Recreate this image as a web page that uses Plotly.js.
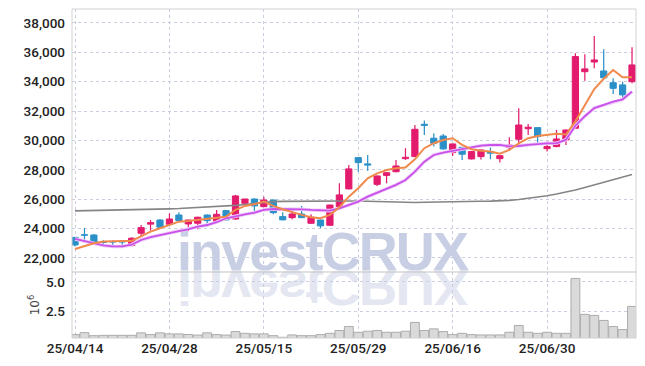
<!DOCTYPE html>
<html>
<head>
<meta charset="utf-8">
<script src="https://cdn.plot.ly/plotly-3.0.1.min.js"></script>
<style>
  html,body{margin:0;padding:0;background:#fff;}
  #wrap{position:relative;width:645px;height:366px;overflow:hidden;}
  .wm{position:absolute;left:177px;top:224px;font-family:'Liberation Sans',Arial,sans-serif;font-weight:bold;font-size:54px;line-height:54px;letter-spacing:-1.9px;white-space:nowrap;z-index:0;}
  #wm1{color:#c8cfe4;}
  #wm2{color:#e4e7f1;transform:scaleY(-0.92);transform-origin:0 46px;}
  #chart{position:absolute;left:0;top:0;width:645px;height:366px;z-index:1;}
</style>
</head>
<body>
<div id="wrap">
  <div class="wm" id="wm1">investCRUX</div>
  <div class="wm" id="wm2">investCRUX</div>
  <div id="chart"></div>
</div>
<script>
const dates = [
 '2025-04-14','2025-04-15','2025-04-16','2025-04-17','2025-04-18','2025-04-21','2025-04-22','2025-04-23','2025-04-24','2025-04-25',
 '2025-04-28','2025-04-29','2025-04-30','2025-05-02','2025-05-07','2025-05-08','2025-05-09','2025-05-12','2025-05-13','2025-05-14',
 '2025-05-15','2025-05-16','2025-05-19','2025-05-20','2025-05-21','2025-05-22','2025-05-23','2025-05-26','2025-05-27','2025-05-28',
 '2025-05-29','2025-05-30','2025-06-02','2025-06-04','2025-06-05','2025-06-09','2025-06-10','2025-06-11','2025-06-12','2025-06-13',
 '2025-06-16','2025-06-17','2025-06-18','2025-06-19','2025-06-20','2025-06-23','2025-06-24','2025-06-25','2025-06-26','2025-06-27',
 '2025-06-30','2025-07-01','2025-07-02','2025-07-03','2025-07-04','2025-07-07','2025-07-08','2025-07-09','2025-07-10','2025-07-11'
];
const openP = [23400,23580,23560,23100,23120,23120,22840,23680,24300,24580,
 24290,24920,24310,24360,24920,24470,25220,24650,25720,26010,
 25490,25940,24810,24740,24990,24360,24580,24220,25490,26700,
 28830,28400,27010,27620,27870,28760,28900,31100,30150,30300,
 29170,29530,28740,28900,29240,28760,29510,30080,30800,30870,
 29440,29580,30030,30830,34680,35340,34730,33930,33780,34000];
const highP = [23420,24040,23620,23200,23200,23180,23400,24240,24580,24640,
 25040,25110,24600,24800,24960,25260,25240,26290,26030,26050,
 26170,25980,25110,25310,25540,24970,24600,25620,27080,28330,
 28860,29010,27620,27830,28670,29470,31050,31350,30490,30440,
 29780,29560,29260,29370,29510,28990,30220,32190,31120,30900,
 29920,30710,30740,35940,35870,37110,36210,34230,34000,36350];
const lowP = [22770,23020,22950,22770,22740,22720,22800,23490,23860,23970,
 24250,24500,23830,23950,24130,24420,24560,24600,25540,25200,
 25460,24970,24560,24630,24720,24320,24020,24200,25450,26650,
 27870,27940,26900,27080,27840,28670,28870,30370,29580,29380,
 28940,28670,28700,28700,28720,28490,29300,29760,30370,29690,
 29240,29540,29690,30800,34070,34910,34250,33160,32940,33900];
const closeP = [22880,23540,23000,23050,23080,23080,23340,24060,24400,24090,
 24650,24540,24580,24770,24540,24970,24590,26220,26010,25540,
 25940,25080,24590,24990,24740,24770,24180,25600,26290,28060,
 28490,28320,27580,27800,28260,28850,30760,31020,29810,29420,
 29760,29060,29240,29350,29130,28960,29690,31050,30900,30260,
 29580,30100,30710,35710,34870,35480,34270,33550,33100,35140];
const ma5 = [22610,22810,23000,23110,23150,23150,23150,23450,23790,24020,
 24250,24470,24520,24580,24630,24740,24810,25270,25540,25650,
 25830,25540,25310,25110,24930,24770,24700,24930,25450,26170,
 26740,27420,27760,27990,28100,28150,28720,29470,29810,30030,
 30150,29700,29400,29300,29250,29100,29350,29800,30150,30300,
 30400,30450,30400,31300,32400,33500,34200,34800,34300,34300];
const ma20 = [23290,23150,23000,22850,22780,22780,22900,23220,23410,23560,
 23680,23830,23950,24130,24240,24430,24700,24860,24970,25080,
 25270,25330,25330,25310,25310,25270,25270,25220,25380,25600,
 25830,26170,26440,26670,26970,27310,27870,28550,29010,29170,
 29280,29400,29530,29640,29690,29690,29600,29620,29700,29760,
 29800,29800,30050,31000,31650,32200,32420,32640,32800,33320];
const maLong = [25200,25210,25220,25230,25240,25250,25260,25280,25300,25320,
 25340,25360,25390,25420,25450,25480,25520,25580,25640,25720,
 25800,25830,25850,25860,25860,25860,25870,25870,25880,25880,
 25880,25860,25830,25800,25770,25760,25770,25790,25810,25820,
 25830,25840,25850,25860,25870,25880,25920,25980,26050,26130,
 26230,26350,26480,26630,26800,26980,27160,27330,27500,27680];
const volume = [0.49,0.66,0.40,0.43,0.43,0.43,0.43,0.64,0.49,0.64,
 0.55,0.55,0.50,0.45,0.64,0.49,0.45,0.75,0.60,0.55,
 0.55,0.40,0.26,0.46,0.40,0.40,0.49,0.60,0.84,1.18,
 0.69,0.78,0.84,0.69,0.69,0.78,1.53,0.84,0.98,0.75,
 0.49,0.60,0.49,0.46,0.46,0.46,0.69,1.27,0.69,0.60,
 0.69,0.60,0.60,5.29,2.22,2.13,1.70,1.18,0.92,2.90];
const tickDates = ['2025-04-14','2025-04-28','2025-05-15','2025-05-29','2025-06-16','2025-06-30'];
const tickLabels = ['25/04/14','25/04/28','25/05/15','25/05/29','25/06/16','25/06/30'];
const priceTicks = [22000,24000,26000,28000,30000,32000,34000,36000,38000];
const volTicks = [2.5,5.0];

const UP = '#e31b6d', DOWN = '#2b90c8';
const tickFont = {family:"Roboto,'Liberation Sans',sans-serif", size:13.5, color:'#222', weight:500};
const grid = '#c9cfe0';
const split = 0.2006;

// candle pieces built from the OHLC arrays, drawn as bars on the price axis
function candleTraces(isUp, color) {
  const xs = [], wickBase = [], wickLen = [], bodyBase = [], bodyLen = [];
  dates.forEach((d, i) => {
    if ((closeP[i] >= openP[i]) !== isUp) return;
    xs.push(d);
    wickBase.push(lowP[i]); wickLen.push(highP[i] - lowP[i]);
    bodyBase.push(Math.min(openP[i], closeP[i])); bodyLen.push(Math.abs(closeP[i] - openP[i]));
  });
  return [
    {type:'bar', x:xs, y:wickLen, base:wickBase, width:0.13, marker:{color:color, line:{width:0}},
     hoverinfo:'skip', showlegend:false},
    {type:'bar', x:xs, y:bodyLen, base:bodyBase, width:0.66, marker:{color:color, line:{color:color, width:1}},
     hoverinfo:'skip', showlegend:false}
  ];
}

const traces = [
  {type:'bar', x:dates, y:volume, yaxis:'y2', xaxis:'x', width:0.94,
   marker:{color:'#dadada', line:{color:'#acacac', width:1}}, hoverinfo:'skip', showlegend:false},
  {type:'scatter', mode:'lines', x:dates, y:maLong, line:{color:'#858585', width:1.6}, hoverinfo:'skip', showlegend:false},
  {type:'scatter', mode:'lines', x:dates, y:ma20, line:{color:'#f0cdf8', width:3.5}, hoverinfo:'skip', showlegend:false},
  {type:'scatter', mode:'lines', x:dates, y:ma20, line:{color:'#c851ea', width:1.8}, hoverinfo:'skip', showlegend:false},
  {type:'scatter', mode:'lines', x:dates, y:ma5, line:{color:'#f0894c', width:2}, hoverinfo:'skip', showlegend:false},
  ...candleTraces(true, UP),
  ...candleTraces(false, DOWN)
];

const layout = {
  width:645, height:366,
  margin:{l:72, r:9, t:9, b:28},
  paper_bgcolor:'rgba(0,0,0,0)', plot_bgcolor:'rgba(0,0,0,0)',
  showlegend:false, barmode:'overlay',
  xaxis:{type:'category', range:[-0.32,59.42], anchor:'y2',
    categoryorder:'array', categoryarray:dates,
    tickmode:'array', tickvals:tickDates, ticktext:tickLabels,
    showgrid:true, gridcolor:grid, griddash:'dot', gridwidth:1,
    ticks:'', tickfont:tickFont, showline:false, zeroline:false, fixedrange:true},
  yaxis:{domain:[split,1], range:[21040,38950], tickmode:'array', tickvals:priceTicks,
    tickformat:',d', showgrid:true, gridcolor:grid, griddash:'dot', gridwidth:1,
    ticks:'', ticklabelstandoff:6, tickfont:tickFont, zeroline:false, showline:false, fixedrange:true},
  yaxis2:{domain:[0,split], range:[0.2,5.84], tickmode:'array', tickvals:volTicks,
    tickformat:'.1f', showgrid:true, gridcolor:grid, griddash:'dot', gridwidth:1,
    ticks:'', ticklabelstandoff:6, tickfont:tickFont, zeroline:false, showline:false, fixedrange:true,
    title:{text:'10<sup>6</sup>', font:{family:'DejaVu Sans', size:12, color:'#444'}, standoff:3}},
  shapes:[
    {type:'rect', xref:'paper', yref:'paper', x0:0, x1:1, y0:0, y1:1, line:{color:'#d2d2d2', width:1}, layer:'above'},
    {type:'line', xref:'paper', yref:'paper', x0:0, x1:1, y0:split, y1:split, line:{color:'#c4c4c4', width:1.2}, layer:'above'}
  ]
};

Plotly.newPlot('chart', traces, layout, {staticPlot:true, displayModeBar:false});
</script>
</body>
</html>
